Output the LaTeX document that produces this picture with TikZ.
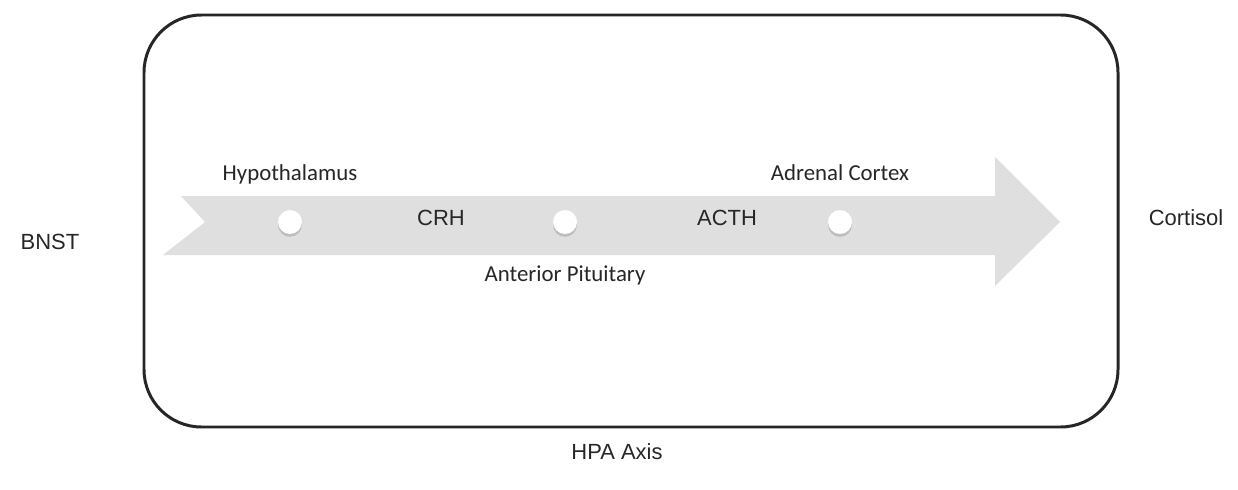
\documentclass[tikz,border=0pt]{standalone}
\usepackage{fontspec}
\setmainfont{Liberation Sans}
\newfontfamily\calibrifont{Carlito}
\usetikzlibrary{shadows,positioning}

\begin{document}
\begin{tikzpicture}[
  x=0.02cm, y=-0.02cm,
  every node/.style={font=\fontsize{12.5}{15}\selectfont, text=black!85},
  organ/.style={font=\calibrifont\fontsize{13}{15}\selectfont,
    text height=1.7ex, text depth=0.5ex},
  gland/.style={circle, fill=white, minimum size=0.48cm, inner sep=0pt,
    drop shadow={shadow xshift=0pt, shadow yshift=-1.6pt, opacity=0.35}}
]
\useasboundingbox (0,0) rectangle (1238,490);

% ============================================================
% Frame
% ============================================================
\draw[black!85, line width=1.7pt, rounded corners=1.15cm]
  (144,15) rectangle (1118,427);

% ============================================================
% Big arrow
% ============================================================
\fill[gray!25]
  (181,196) -- (995,196) -- (995,157) -- (1060,222) -- (995,286)
  -- (995,255) -- (163,255) -- (205,222) -- cycle;

% ============================================================
% Glands
% ============================================================
\node[gland] (hypo) at (290,222) {};
\node[gland] (pit) at (565,222) {};
\node[gland] (adr) at (840,222) {};

\node[organ, above=0.36cm of hypo] (hypolabel) {Hypothalamus};
\node[organ, below=0.5cm of pit] (pitlabel) {Anterior Pituitary};
\node[organ, above=0.36cm of adr] (adrlabel) {Adrenal Cortex};

% ============================================================
% Hormones and outer labels
% ============================================================
\node (crh) at (441,218) {CRH};
\node (acth) at (727,218) {ACTH};
\node (bnst) at (50,242) {BNST};
\node (cortisol) at (1186,218) {Cortisol};
\node (hpa) at (617,452) {HPA Axis};

\end{tikzpicture}
\end{document}
